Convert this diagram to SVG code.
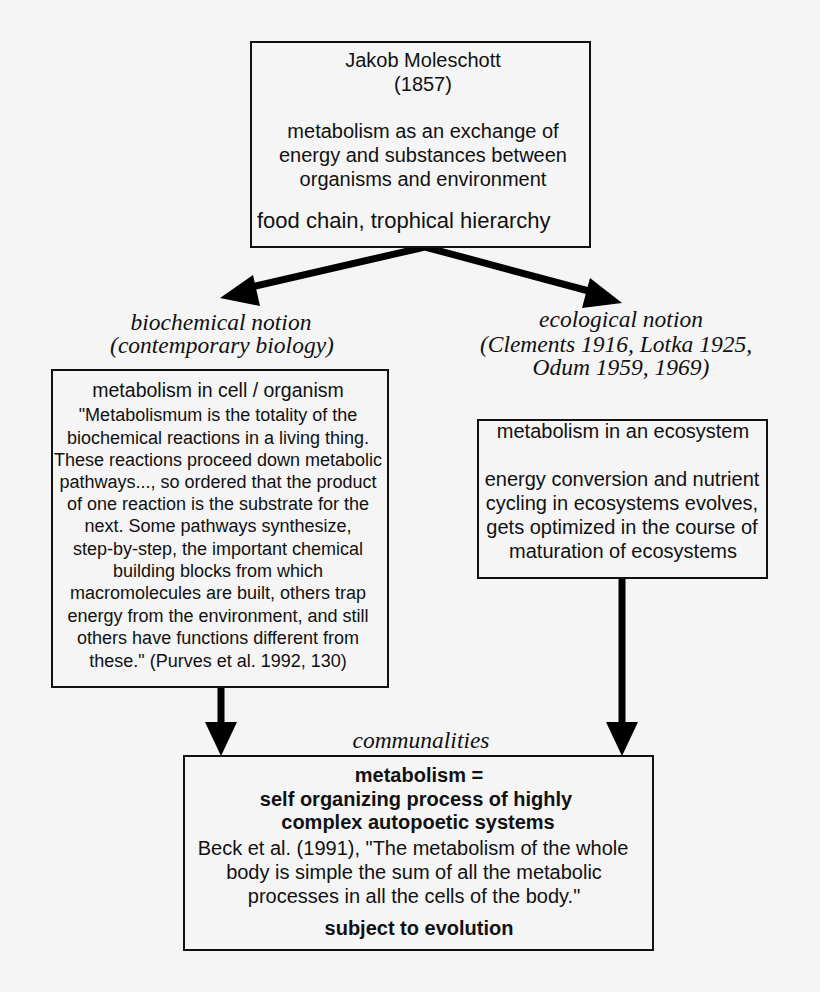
<svg xmlns="http://www.w3.org/2000/svg" width="820" height="992" viewBox="0 0 820 992">
<style>
.box{fill:#f5f5f5;stroke:#111;stroke-width:2}
.t{font-family:"Liberation Sans",Arial,sans-serif;fill:#111;text-anchor:middle}
.s{font-size:20px}
.q{font-size:18px}
.b{font-weight:bold;font-size:20px}
.i{font-family:"Liberation Serif","Times New Roman",serif;font-style:italic;font-size:23.5px;fill:#111;text-anchor:middle}
.ln{stroke:#000;stroke-width:7;fill:none}
.hd{fill:#000}
</style>
<rect width="820" height="992" fill="#f5f5f5"/>
<g id="connectors">
<polyline class="ln" points="238,290 425,247 600,294"/>
<polygon class="hd" points="220,298 253,275 260,306"/>
<polygon class="hd" points="622,303 590,278 582,308"/>
<line class="ln" x1="221" y1="688" x2="221" y2="725"/>
<polygon class="hd" points="205,722 237,722 221,756"/>
<line class="ln" x1="622" y1="579" x2="622" y2="725"/>
<polygon class="hd" points="606,722 638,722 622,756"/>
</g>
<g id="top">
<rect class="box" x="251" y="42" width="339" height="205"/>
<text class="t s" x="423" y="67">Jakob Moleschott</text>
<text class="t s" x="423" y="91">(1857)</text>
<text class="t s" x="423" y="138">metabolism as an exchange of</text>
<text class="t s" x="423" y="162">energy and substances between</text>
<text class="t s" x="423" y="186">organisms and environment</text>
<text class="t" x="257" y="228" style="font-size:22px;text-anchor:start">food chain, trophical hierarchy</text>
</g>
<g id="label-bio">
<text class="i" x="221" y="330">biochemical notion</text>
<text class="i" x="222" y="353">(contemporary biology)</text>
</g>
<g id="label-eco">
<text class="i" x="621" y="327">ecological notion</text>
<text class="i" x="616" y="352">(Clements 1916, Lotka 1925,</text>
<text class="i" x="621" y="375">Odum 1959, 1969)</text>
</g>
<g id="cell">
<rect class="box" x="52" y="370" width="336" height="317"/>
<text class="t" x="218" y="397" style="font-size:19.5px">metabolism in cell / organism</text>
<text class="t q" x="218" y="421">"Metabolismum is the totality of the</text>
<text class="t q" x="218" y="444">biochemical reactions in a living thing.</text>
<text class="t q" x="218" y="466">These reactions proceed down metabolic</text>
<text class="t q" x="218" y="488">pathways..., so ordered that the product</text>
<text class="t q" x="218" y="510">of one reaction is the substrate for the</text>
<text class="t q" x="218" y="532">next. Some pathways synthesize,</text>
<text class="t q" x="218" y="555">step-by-step, the important chemical</text>
<text class="t q" x="218" y="577">building blocks from which</text>
<text class="t q" x="218" y="599">macromolecules are built, others trap</text>
<text class="t q" x="218" y="622">energy from the environment, and still</text>
<text class="t q" x="218" y="644">others have functions different from</text>
<text class="t q" x="218" y="667">these." (Purves et al. 1992, 130)</text>
</g>
<g id="ecosystem">
<rect class="box" x="478" y="420" width="289" height="158"/>
<text class="t s" x="623" y="438">metabolism in an ecosystem</text>
<text class="t s" x="622" y="486">energy conversion and nutrient</text>
<text class="t s" x="622" y="510">cycling in ecosystems evolves,</text>
<text class="t s" x="622" y="534">gets optimized in the course of</text>
<text class="t s" x="623" y="558">maturation of ecosystems</text>
</g>
<g id="communalities">
<text class="i" x="421" y="748">communalities</text>
<rect class="box" x="184" y="756" width="469" height="194"/>
<text class="t b" x="419" y="782">metabolism =</text>
<text class="t b" x="416" y="806">self organizing process of highly</text>
<text class="t b" x="418" y="829">complex autopoetic systems</text>
<text class="t s" x="413" y="855">Beck et al. (1991), "The metabolism of the whole</text>
<text class="t s" x="414" y="879">body is simple the sum of all the metabolic</text>
<text class="t s" x="414" y="903">processes in all the cells of the body."</text>
<text class="t b" x="419" y="935">subject to evolution</text>
</g>
</svg>
